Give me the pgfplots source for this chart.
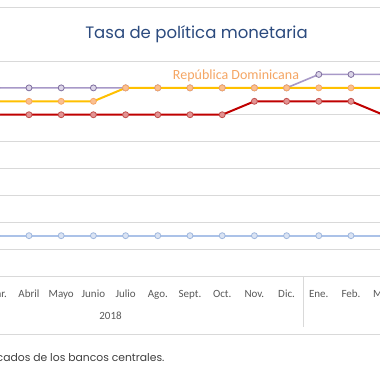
\documentclass[border=0pt]{standalone}
\usepackage{pgfplots}
\pgfplotsset{compat=1.18}
\usepackage{fontspec}
\setmainfont{Carlito}
\newfontfamily\futura{Poppins}
\definecolor{gridc}{HTML}{D9D9D9}
\definecolor{titlec}{HTML}{2B4A7E}
\definecolor{labc}{HTML}{595959}
\definecolor{footc}{HTML}{404040}
\definecolor{purpleL}{HTML}{A899C8}
\definecolor{purpleF}{HTML}{DCD5E8}
\definecolor{purpleD}{HTML}{7F6F9F}
\definecolor{orangeL}{HTML}{FFC000}
\definecolor{orangeF}{HTML}{FAC091}
\definecolor{orangeD}{HTML}{F5A66A}
\definecolor{redL}{HTML}{C00000}
\definecolor{redF}{HTML}{E39393}
\definecolor{redD}{HTML}{C0504D}
\definecolor{blueL}{HTML}{ABC2E8}
\definecolor{blueF}{HTML}{DAE3F3}
\definecolor{blueD}{HTML}{9FB7DD}
\definecolor{rdlab}{HTML}{F5A664}
\begin{document}
\begin{tikzpicture}[x=1pt,y=1pt]
\useasboundingbox (0,0) rectangle (380,380);
\clip (0,0) rectangle (380,380);
\fill[white] (0,0) rectangle (380,380);
\draw[gridc, line width=0.8pt] (0,373) -- (380,373);
\draw[gridc, line width=0.8pt] (0,46) -- (380,46);
\draw[gridc, line width=0.8pt] (303,103) -- (303,53);
\node[font=\futura\fontsize{16.5}{19}\selectfont, text=titlec, anchor=base] at (196.5,341) {Tasa de política monetaria};
\begin{axis}[
  at={(-83.7pt,104pt)}, anchor=south west,
  scale only axis, width=483pt, height=215pt,
  xmin=-0.5, xmax=14.5, ymin=2, ymax=6,
  ytick={2,2.5,...,6}, yticklabels={},
  ymajorgrids, grid style={gridc, line width=0.8pt},
  axis line style={draw=none},
  major tick length=0pt,
  xtick={2,...,14},
  xticklabels={Mar.,Abril,Mayo,Junio,Julio,Ago.,Sept.,Oct.,Nov.,Dic.,Ene.,Feb.,Mar.},
  xticklabel style={font=\fontsize{11}{13}\selectfont, text=labc, anchor=base, yshift=-22pt},
  every axis plot/.append style={mark=*, mark size=3pt},
]
\addplot[purpleL, line width=1.6pt, mark options={fill=purpleF, draw=purpleD, line width=0.8pt}]
  coordinates {(2,5.50) (3,5.50) (4,5.50) (5,5.50) (6,5.50) (7,5.50) (8,5.50) (9,5.50) (10,5.50) (11,5.50) (12,5.75) (13,5.75) (14,5.75)};
\addplot[blueL, line width=2pt, mark options={fill=blueF, draw=blueD, line width=0.8pt}]
  coordinates {(2,2.75) (3,2.75) (4,2.75) (5,2.75) (6,2.75) (7,2.75) (8,2.75) (9,2.75) (10,2.75) (11,2.75) (12,2.75) (13,2.75) (14,2.75)};
\addplot[redL, line width=2pt, mark options={fill=redF, draw=redD, line width=0.8pt}]
  coordinates {(2,5.00) (3,5.00) (4,5.00) (5,5.00) (6,5.00) (7,5.00) (8,5.00) (9,5.00) (10,5.25) (11,5.25) (12,5.25) (13,5.25) (14,5.00)};
\addplot[orangeL, line width=2pt, mark options={fill=orangeF, draw=orangeD, line width=0.8pt}]
  coordinates {(2,5.25) (3,5.25) (4,5.25) (5,5.25) (6,5.50) (7,5.50) (8,5.50) (9,5.50) (10,5.50) (11,5.50) (12,5.50) (13,5.50) (14,5.50)};
\end{axis}
\node[font=\fontsize{14}{16}\selectfont, text=rdlab, anchor=base] at (236,300) {República Dominicana};
\node[font=\fontsize{11}{13}\selectfont, text=labc, anchor=base] at (110.5,60) {2018};
\node[font=\futura\fontsize{10.8}{13}\selectfont, text=footc, anchor=base east] at (168,18) {Fuente: elaborado con datos publicados de los bancos centrales.};
\end{tikzpicture}
\end{document}
